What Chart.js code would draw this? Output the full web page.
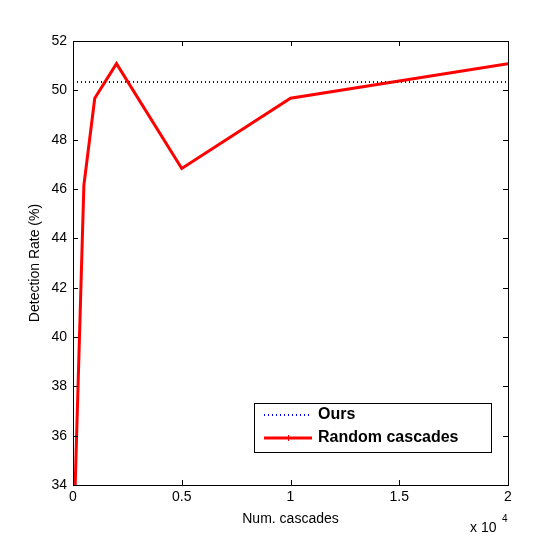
<!DOCTYPE html>
<html><head><meta charset="utf-8">
<script src="https://cdn.jsdelivr.net/npm/chart.js@4/dist/chart.umd.min.js"></script>
<style>html,body{margin:0;padding:0;background:#fff}#wrap{width:560px;height:544px}</style>
</head><body><div id="wrap"><canvas id="c" width="560" height="544"></canvas></div>
<script>
const cascades = [100, 500, 1000, 2000, 5000, 10000, 20000];
const randomRates = [34.0, 46.15, 49.68, 51.08, 46.83, 49.68, 51.08];
const oursX = [0, 20000];
const oursRate = [50.338, 50.338];
const xTicks = [0, 5000, 10000, 15000, 20000];
const yTicks = [34, 36, 38, 40, 42, 44, 46, 48, 50, 52];
const seriesNames = ['Ours', 'Random cascades'];

const FONT = 'Liberation Sans, Arial, sans-serif';

const decor = {
  id: 'decor',
  afterDraw(chart) {
    const {ctx, chartArea: a, scales: {x, y}} = chart;
    ctx.save();
    ctx.strokeStyle = '#000';
    ctx.lineWidth = 1;
    ctx.strokeRect(a.left + 0.5, a.top + 0.5, a.right - a.left, a.bottom - a.top);
    ctx.beginPath();
    xTicks.forEach(v => {
      const px = Math.round(x.getPixelForValue(v)) + 0.5;
      ctx.moveTo(px, a.bottom); ctx.lineTo(px, a.bottom - 5);
      ctx.moveTo(px, a.top); ctx.lineTo(px, a.top + 5);
    });
    yTicks.forEach(v => {
      const py = Math.round(y.getPixelForValue(v)) + 0.5;
      ctx.moveTo(a.left, py); ctx.lineTo(a.left + 5, py);
      ctx.moveTo(a.right, py); ctx.lineTo(a.right - 5, py);
    });
    ctx.stroke();
    ctx.fillStyle = '#000';
    ctx.font = '14px ' + FONT;
    ctx.textAlign = 'center'; ctx.textBaseline = 'middle';
    ctx.fillText('Num. cascades', (a.left + a.right) / 2, 519);
    ctx.save();
    ctx.translate(35, (a.top + a.bottom) / 2);
    ctx.rotate(-Math.PI / 2);
    ctx.fillText('Detection Rate (%)', 0, 0);
    ctx.restore();
    ctx.textAlign = 'left';
    ctx.fillText('x 10', 470, 528);
    ctx.font = '10px ' + FONT;
    ctx.fillText('4', 502, 519);
    const lx = 254, ly = 403, lw = 237, lh = 49;
    ctx.fillStyle = '#fff';
    ctx.fillRect(lx, ly, lw, lh);
    ctx.strokeStyle = '#000';
    ctx.lineWidth = 1;
    ctx.strokeRect(lx + 0.5, ly + 0.5, lw, lh);
    ctx.strokeStyle = '#0000ff';
    ctx.lineWidth = 2;
    ctx.setLineDash([1, 3]);
    ctx.beginPath(); ctx.moveTo(264, 415); ctx.lineTo(311, 415); ctx.stroke();
    ctx.setLineDash([]);
    ctx.strokeStyle = '#ff0000';
    ctx.lineWidth = 3;
    ctx.beginPath(); ctx.moveTo(264, 438); ctx.lineTo(312, 438); ctx.stroke();
    ctx.lineWidth = 1;
    ctx.beginPath(); ctx.moveTo(288.5, 435); ctx.lineTo(288.5, 441); ctx.stroke();
    ctx.fillStyle = '#000';
    ctx.font = 'bold 16px ' + FONT;
    ctx.textAlign = 'left'; ctx.textBaseline = 'middle';
    ctx.fillText(seriesNames[0], 318, 415);
    ctx.fillText(seriesNames[1], 318, 438);
    ctx.restore();
  }
};

new Chart(document.getElementById('c'), {
  type: 'line',
  data: {
    datasets: [
      {
        label: seriesNames[0],
        data: oursX.map((v, i) => ({x: v, y: oursRate[i]})),
        borderColor: '#0000ff', borderWidth: 2, borderDash: [1, 3],
        borderCapStyle: 'butt',
        pointRadius: 0, fill: false, tension: 0
      },
      {
        label: seriesNames[1],
        data: cascades.map((v, i) => ({x: v, y: randomRates[i]})),
        borderColor: '#ff0000', borderWidth: 3,
        pointRadius: 0, fill: false, tension: 0, borderJoinStyle: 'miter'
      }
    ]
  },
  options: {
    responsive: false, animation: false,
    layout: {padding: {left: 0, top: 41, right: 52, bottom: 0}},
    plugins: {legend: {display: false}, tooltip: {enabled: false}},
    scales: {
      x: {
        type: 'linear', min: 0, max: 20000,
        afterFit: s => { s.height = 59; },
        afterBuildTicks: s => { s.ticks = xTicks.map(v => ({value: v})); },
        grid: {display: false, drawTicks: false},
        border: {display: false},
        ticks: {
          padding: 4, color: '#000', maxRotation: 0,
          font: {family: FONT, size: 14},
          callback: v => String(v / 10000)
        }
      },
      y: {
        min: 34, max: 52,
        afterFit: s => { s.width = 73; },
        afterBuildTicks: s => { s.ticks = yTicks.map(v => ({value: v})); },
        grid: {display: false, drawTicks: false},
        border: {display: false},
        ticks: {padding: 6, color: '#000', font: {family: FONT, size: 14}}
      }
    }
  },
  plugins: [decor]
});
</script></body></html>
